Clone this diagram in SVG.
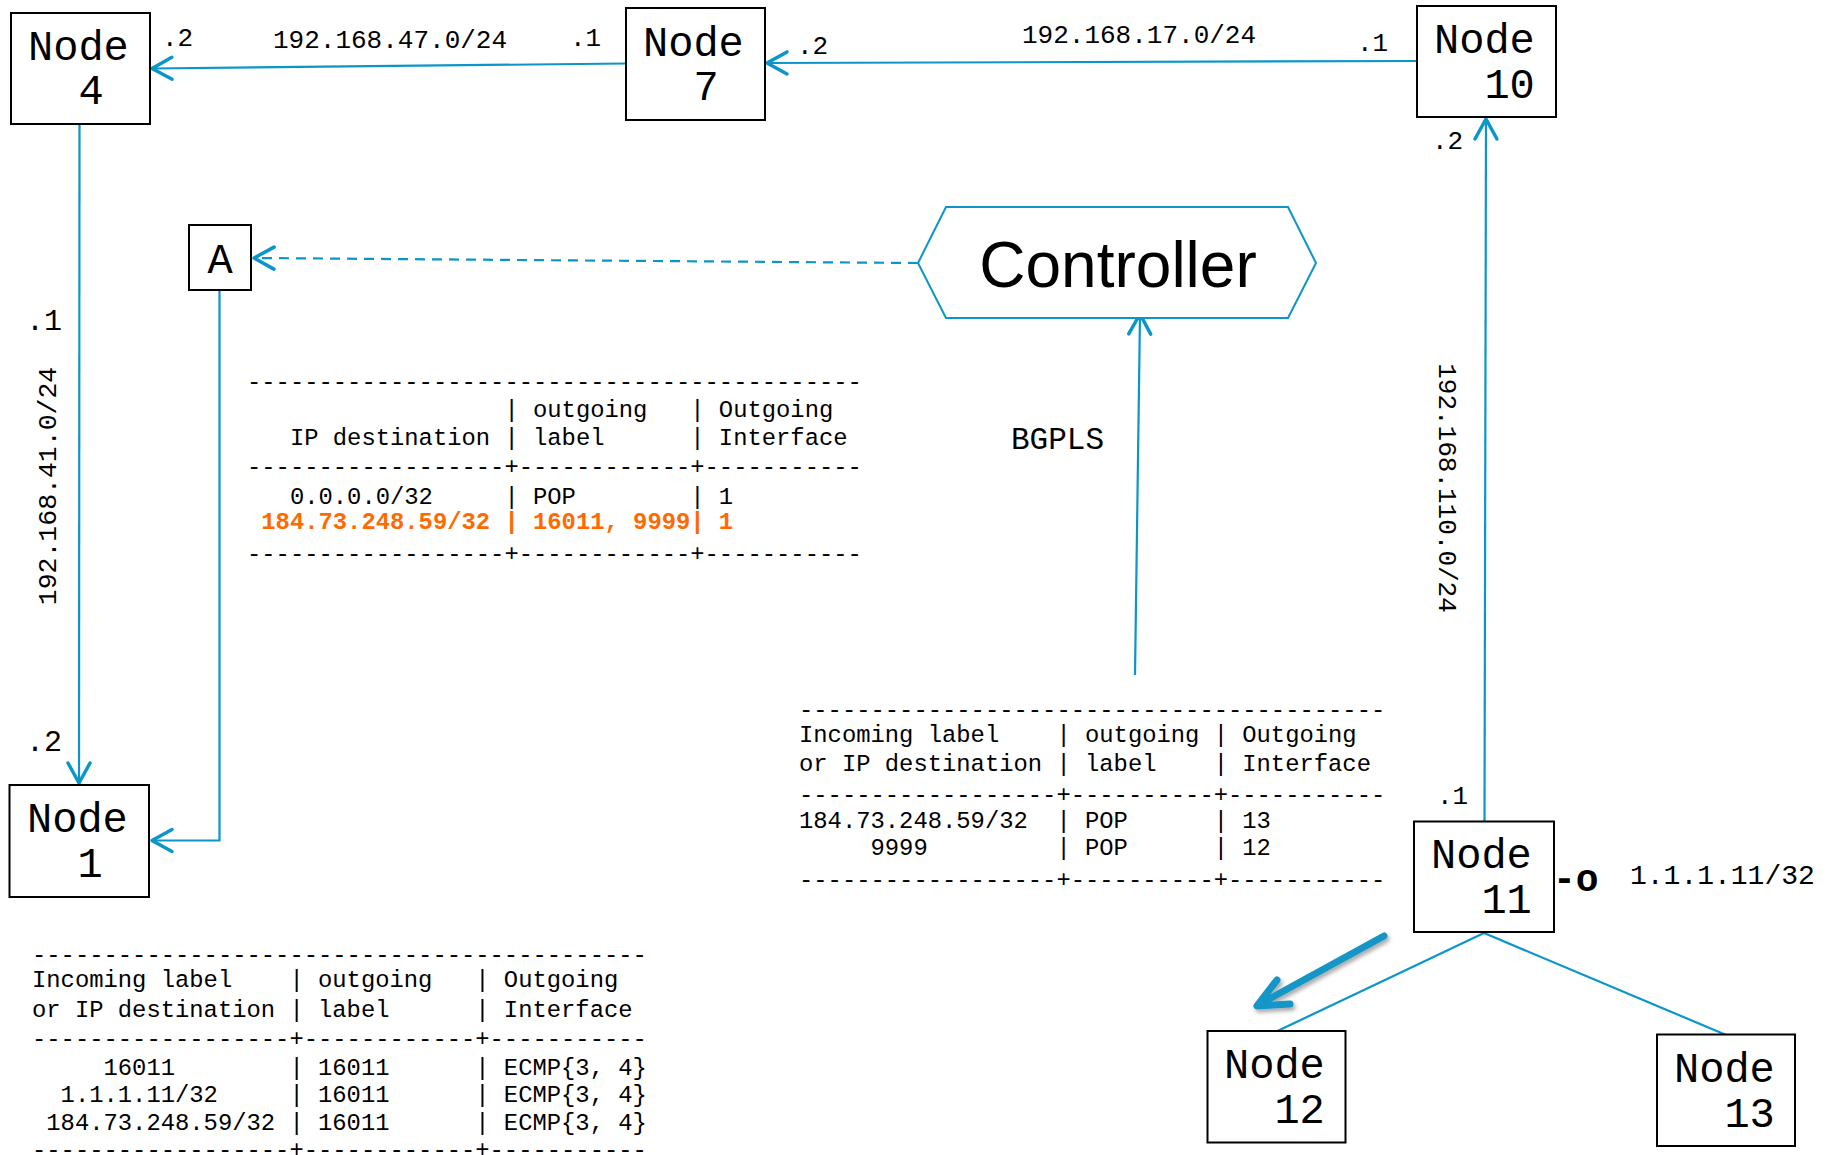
<svg xmlns="http://www.w3.org/2000/svg" width="1839" height="1155" viewBox="0 0 1839 1155">
<style>
.bg{fill:#ffffff}
.box{fill:#ffffff;stroke:#000000;stroke-width:2}
.nt{font-family:"Liberation Mono","Courier New",monospace;font-size:42px;fill:#000}
.lbl{font-family:"Liberation Mono","Courier New",monospace;font-size:26px;fill:#000}
.tbl text{font-family:"Liberation Mono","Courier New",monospace;font-size:23.83px;fill:#000;white-space:pre}
.tbl text.hl{fill:#FF6A00;font-weight:bold}
.ln{fill:none;stroke:#0A96C8;stroke-width:2.2}
.dash{stroke-dasharray:10 7}
.ctl{fill:#ffffff;stroke:#0A96C8;stroke-width:2}
.ctt{font-family:"Liberation Sans",Arial,sans-serif;font-size:64px;fill:#000}
</style>
<defs>
<marker id="arr" viewBox="-24 -14 28 28" refX="0" refY="0" markerWidth="28" markerHeight="28" orient="auto" markerUnits="userSpaceOnUse">
<path d="M-20,-11 L0,0 L-20,11" fill="none" stroke="#0A96C8" stroke-width="3.5" stroke-linecap="round" stroke-linejoin="round"/>
</marker>
<filter id="shadow" x="-20%" y="-20%" width="140%" height="140%">
<feDropShadow dx="2" dy="3" stdDeviation="2" flood-color="#000" flood-opacity="0.35"/>
</filter>
</defs>
<rect class="bg" x="0" y="0" width="1839" height="1155"/>

<g id="connectors">
<line class="ln" x1="626" y1="63.5" x2="152" y2="68.5" marker-end="url(#arr)"/>
<line class="ln" x1="1417" y1="61" x2="767" y2="63" marker-end="url(#arr)"/>
<line class="ln" x1="1484.5" y1="821" x2="1486" y2="119" marker-end="url(#arr)"/>
<line class="ln" x1="79.5" y1="124" x2="79" y2="783" marker-end="url(#arr)"/>
<polyline class="ln" points="219.5,290 219.5,840.5 152,840.5" marker-end="url(#arr)"/>
<line class="ln dash" x1="918" y1="263" x2="254" y2="258" marker-end="url(#arr)"/>
<line class="ln" x1="1135" y1="675" x2="1140" y2="314" marker-end="url(#arr)"/>
<line class="ln" x1="1484" y1="933" x2="1277.5" y2="1031"/>
<line class="ln" x1="1484" y1="933" x2="1725" y2="1034.5"/>
<g filter="url(#shadow)">
<path d="M1384,936 L1260,1004" fill="none" stroke="#1296C6" stroke-width="7" stroke-linecap="round"/>
<path d="M1277,980 L1257,1006 L1290,1004" fill="none" stroke="#1296C6" stroke-width="7" stroke-linecap="round" stroke-linejoin="round"/>
</g>
</g>

<g id="node4">
<rect class="box" x="11" y="13" width="139" height="111"/>
<text class="nt" x="28" y="60">Node</text>
<text class="nt" x="78.4" y="104">4</text>
</g>
<g id="node7">
<rect class="box" x="626" y="8" width="139" height="112"/>
<text class="nt" x="643" y="56">Node</text>
<text class="nt" x="693.4" y="100">7</text>
</g>
<g id="node10">
<rect class="box" x="1417" y="6" width="139" height="111"/>
<text class="nt" x="1434" y="53">Node</text>
<text class="nt" x="1484.4" y="98">10</text>
</g>
<g id="node1">
<rect class="box" x="9.5" y="785" width="139.5" height="112"/>
<text class="nt" x="27" y="832">Node</text>
<text class="nt" x="77.4" y="877">1</text>
</g>
<g id="nodeA">
<rect class="box" x="189" y="225" width="62" height="65"/>
<text class="nt" x="220" y="273" text-anchor="middle">A</text>
</g>
<g id="controller">
<polygon class="ctl" points="918,263 946,207 1288,207 1316,263 1288,318 946,318"/>
<text class="ctt" x="1118" y="287" text-anchor="middle">Controller</text>
</g>
<g id="node11">
<rect class="box" x="1414" y="821.5" width="140" height="110.5"/>
<text class="nt" x="1431" y="868">Node</text>
<text class="nt" x="1481.4" y="913">11</text>
</g>
<g id="node12">
<rect class="box" x="1207.5" y="1031" width="138" height="111.5"/>
<text class="nt" x="1224" y="1078">Node</text>
<text class="nt" x="1274.4" y="1122.5">12</text>
</g>
<g id="node13">
<rect class="box" x="1657" y="1034.5" width="138" height="111.5"/>
<text class="nt" x="1674" y="1081.5">Node</text>
<text class="nt" x="1724.4" y="1126.5">13</text>
</g>

<g id="labels">
<text class="lbl" x="162" y="46">.2</text>
<text class="lbl" x="273" y="48">192.168.47.0/24</text>
<text class="lbl" x="570" y="46">.1</text>
<text class="lbl" x="797" y="54">.2</text>
<text class="lbl" x="1022" y="43">192.168.17.0/24</text>
<text class="lbl" x="1357" y="51">.1</text>
<text class="lbl" x="1432" y="149">.2</text>
<text class="lbl" x="26" y="330" style="font-size:30px">.1</text>
<text class="lbl" x="26" y="751" style="font-size:30px">.2</text>
<text class="lbl" x="1437" y="804">.1</text>
<text class="lbl" transform="translate(56,486) rotate(-90)" text-anchor="middle" style="font-size:26.5px">192.168.41.0/24</text>
<text class="lbl" transform="translate(1439,488) rotate(90)" text-anchor="middle">192.168.110.0/24</text>
<text class="lbl" x="1011" y="449" style="font-size:31px">BGPLS</text>
<text class="lbl" x="1553" y="891" style="font-size:38px;font-weight:bold">-o</text>
<text class="lbl" x="1630" y="884" style="font-size:28px">1.1.1.11/32</text>
</g>

<g id="table1" class="tbl">
<text xml:space="preserve" x="247" y="389">-------------------------------------------</text>
<text xml:space="preserve" x="247" y="416.5">                  | outgoing   | Outgoing</text>
<text xml:space="preserve" x="247" y="445">   IP destination | label      | Interface</text>
<text xml:space="preserve" x="247" y="474">------------------+------------+-----------</text>
<text xml:space="preserve" x="247" y="504">   0.0.0.0/32     | POP        | 1</text>
<text xml:space="preserve" x="247" y="529" class="hl"> 184.73.248.59/32 | 16011, 9999| 1</text>
<text xml:space="preserve" x="247" y="560.5">------------------+------------+-----------</text>
</g>

<g id="table2" class="tbl">
<text xml:space="preserve" x="799" y="717">-----------------------------------------</text>
<text xml:space="preserve" x="799" y="741.7">Incoming label    | outgoing | Outgoing</text>
<text xml:space="preserve" x="799" y="770.7">or IP destination | label    | Interface</text>
<text xml:space="preserve" x="799" y="801.5">------------------+----------+-----------</text>
<text xml:space="preserve" x="799" y="828.3">184.73.248.59/32  | POP      | 13</text>
<text xml:space="preserve" x="799" y="855">     9999         | POP      | 12</text>
<text xml:space="preserve" x="799" y="886.5">------------------+----------+-----------</text>
</g>

<g id="table3" class="tbl">
<text xml:space="preserve" x="32" y="961.5">-------------------------------------------</text>
<text xml:space="preserve" x="32" y="986.7">Incoming label    | outgoing   | Outgoing</text>
<text xml:space="preserve" x="32" y="1016.7">or IP destination | label      | Interface</text>
<text xml:space="preserve" x="32" y="1045.5">------------------+------------+-----------</text>
<text xml:space="preserve" x="32" y="1075">     16011        | 16011      | ECMP{3, 4}</text>
<text xml:space="preserve" x="32" y="1101.7">  1.1.1.11/32     | 16011      | ECMP{3, 4}</text>
<text xml:space="preserve" x="32" y="1130"> 184.73.248.59/32 | 16011      | ECMP{3, 4}</text>
<text xml:space="preserve" x="32" y="1157">------------------+------------+-----------</text>
</g>
</svg>
